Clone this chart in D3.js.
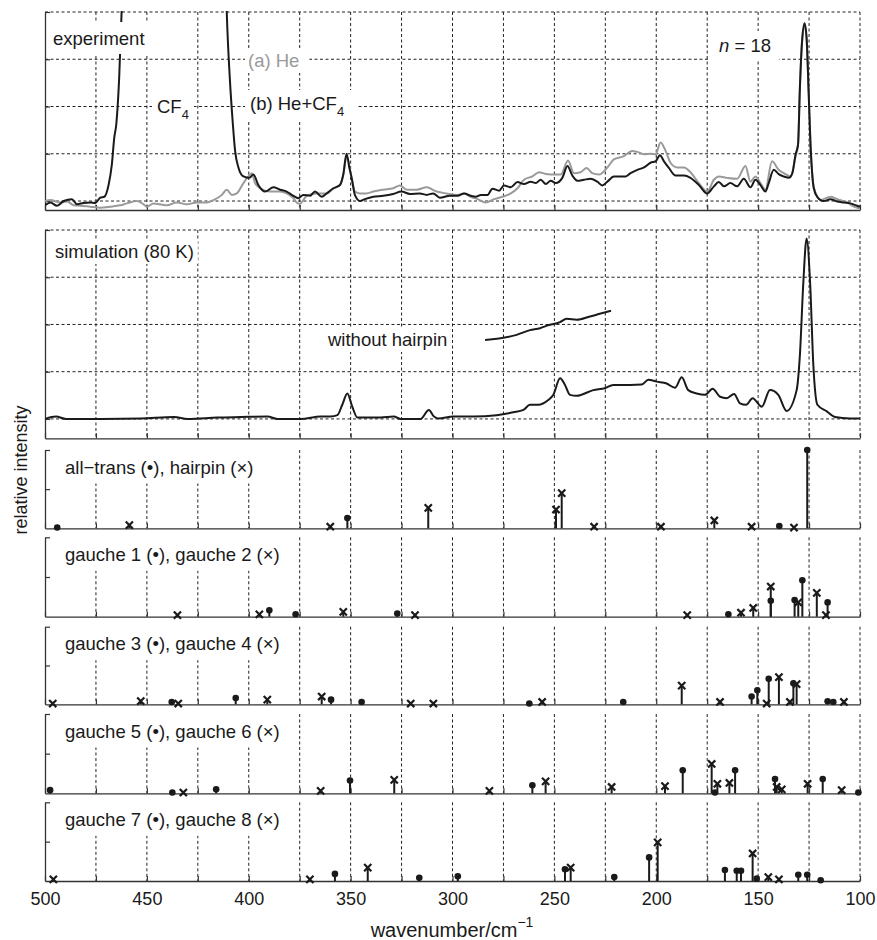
<!DOCTYPE html>
<html>
<head>
<meta charset="utf-8">
<script src="https://cdn.jsdelivr.net/npm/d3@7"></script>
<style>
  body { margin: 0; background: #fff; }
  svg { display: block; font-family: "Liberation Sans", Arial, Helvetica, sans-serif; }
</style>
</head>
<body>
<div id="chart"></div>
<script>
'use strict';

// ---- data: [wavenumber (cm-1), relative intensity] ----

// experiment (a) He, grey
var heSpectrum = [
  [500, 0.0], [497.4, 0.02], [492.5, -0.03], [489.2, -0.01], [485.9, -0.09], [482.7, -0.1],
  [477.8, -0.12], [472.9, -0.14], [468, -0.12], [463.1, -0.09], [459.8, -0.05], [454.9, 0.0],
  [451.6, -0.07], [450, -0.12], [446.7, -0.05], [443.5, -0.07], [440.2, -0.09], [435.3, -0.03],
  [430.4, -0.07], [425.5, -0.03], [420.6, -0.03], [417.3, 0.02], [413.2, 0.13], [410.8, 0.24],
  [408.3, 0.13], [405.9, 0.16], [402.6, 0.38], [400.2, 0.52], [398.5, 0.59], [396.9, 0.38],
  [394.4, 0.27], [389.5, 0.2], [384.6, 0.2], [381.4, 0.16], [378.1, 0.06], [376.5, -0.03],
  [374.8, -0.06], [373.2, 0.02], [371.6, 0.11], [366.7, 0.16], [361.8, 0.16], [358.5, 0.26],
  [355.2, 0.34], [353.6, 0.56], [352, 0.95], [349.5, 0.49], [347.9, 0.2], [345.4, 0.16],
  [342.2, 0.16], [338.9, 0.2], [334, 0.24], [329.1, 0.27], [325.8, 0.33], [322.5, 0.24],
  [317.6, 0.24], [312.7, 0.29], [307.8, 0.2], [302.9, 0.16], [297.5, 0.13], [294.3, 0.16],
  [291, 0.09], [287.7, 0.04], [283.7, -0.03], [279.6, 0.04], [275.5, 0.09], [271.4, 0.16],
  [268.1, 0.27], [264.9, 0.45], [260.8, 0.52], [257.5, 0.61], [254.2, 0.57], [251.8, 0.56],
  [246.9, 0.56], [243.3, 0.86], [240.4, 0.59], [237.1, 0.61], [234.2, 0.7], [231.4, 0.59],
  [228.1, 0.56], [224, 0.71], [220.8, 0.88], [215.9, 0.95], [211.8, 1.06], [209.3, 1.04],
  [206, 0.99], [202.8, 1.0], [200.3, 0.99], [197.9, 1.24], [195.4, 1.06], [193, 0.81],
  [189.7, 0.71], [186.4, 0.71], [183.2, 0.61], [179.1, 0.38], [175, 0.2], [171.7, 0.45],
  [169.3, 0.52], [165.2, 0.49], [160.3, 0.47], [156.2, 0.74], [153.8, 0.41], [151.3, 0.52],
  [148.9, 0.38], [146.4, 0.24], [143.2, 0.84], [139.9, 0.66], [136.6, 0.57], [134.1, 0.52],
  [131.6, 0.95], [130.4, 1.2], [129.5, 2.4], [128.4, 3.4], [127.2, 3.72], [126.2, 3.4],
  [125.2, 2.3], [124.3, 1.2], [123.5, 0.6], [122.7, 0.3], [119.4, 0.02], [114.5, 0.09],
  [111.2, 0.04], [106.3, -0.03], [103, -0.12], [100, -0.16]
];

// experiment (b) He+CF4, black (the CF4 band runs off scale)
var heCf4Spectrum = [
  [500, -0.09], [497.4, -0.03], [494.1, -0.1], [490.8, 0.0], [486.8, 0.04], [484.3, -0.07],
  [481, -0.04], [477.8, -0.03], [475.3, -0.04], [472.9, 0.07], [470.9, 0.09], [468.8, 0.34],
  [467.2, 0.77], [466, 1.34], [465, 1.63], [463.6, 2.6], [462.4, 4.0], [461, 6], [436, 9],
  [412, 6], [410.8, 4.0], [409.3, 2.6], [407.8, 1.63], [406.7, 1.06], [405, 0.7], [402.6, 0.52],
  [399.7, 0.49], [397.7, 0.56], [395.3, 0.34], [392, 0.2], [387.9, 0.29], [384.6, 0.24],
  [381.4, 0.2], [378.1, 0.11], [375.7, 0.06], [373.2, 0.13], [369.9, 0.11], [367.5, 0.2],
  [364.2, 0.09], [361.8, 0.16], [358.5, 0.27], [355.2, 0.34], [353.6, 0.56], [352, 1.0],
  [350.6, 0.7], [349.5, 0.49], [347.9, 0.13], [345.4, 0.0], [343, 0.04], [338.9, 0.09],
  [334, 0.11], [329.1, 0.15], [325, 0.2], [320.9, 0.15], [316, 0.16], [312.7, 0.13],
  [309.5, 0.16], [306.2, 0.07], [301.3, 0.11], [297.5, 0.11], [294.3, 0.16], [291, 0.11],
  [288.6, 0.09], [286.1, 0.13], [282.8, 0.13], [280.4, 0.26], [277.1, 0.22], [274.7, 0.33],
  [271.4, 0.29], [268.1, 0.4], [264.9, 0.36], [261.6, 0.41], [259.1, 0.38], [256.7, 0.45],
  [254.2, 0.36], [251.8, 0.43], [249.3, 0.38], [246.1, 0.49], [243.6, 0.74], [241.2, 0.54],
  [238.7, 0.43], [235.5, 0.45], [232.2, 0.47], [228.9, 0.41], [226.5, 0.33], [224, 0.41],
  [220.8, 0.52], [217.5, 0.52], [215, 0.52], [212.6, 0.59], [209.3, 0.66], [206, 0.71],
  [202.8, 0.81], [200.3, 0.84], [198.2, 0.97], [196.2, 0.84], [193.8, 0.7], [190.5, 0.54],
  [186.4, 0.54], [183.2, 0.49], [179.1, 0.34], [175, 0.16], [171.7, 0.31], [169.3, 0.4],
  [166.8, 0.31], [163.6, 0.38], [160.3, 0.31], [157, 0.47], [153.8, 0.29], [151.3, 0.45],
  [148.9, 0.34], [146.4, 0.2], [144.8, 0.38], [142.3, 0.66], [139.9, 0.57], [137.4, 0.52],
  [134.9, 0.49], [133.2, 0.59], [131.6, 0.99], [130.4, 1.2], [129.5, 2.4], [128.4, 3.4],
  [127.2, 3.76], [126.2, 3.45], [125.2, 2.3], [124.3, 1.2], [123.5, 0.6], [122.7, 0.27],
  [121, 0.09], [117.7, 0.0], [114.5, 0.04], [111.2, -0.01], [107.9, -0.03], [104.7, -0.05],
  [101.4, -0.1], [100, -0.12]
];

// simulation (80 K)
var simSpectrum = [
  [500, 0.0], [494.6, 0.05], [489.7, 0.0], [472.5, 0.0], [452.9, 0.01], [436.6, 0.04],
  [430, 0.0], [415.3, 0.03], [403.9, 0.04], [390.8, 0.05], [385.9, 0.0], [374.5, 0.0],
  [364.7, 0.05], [359.8, 0.05], [356.5, 0.08], [354.1, 0.3], [351.6, 0.54], [349.2, 0.26],
  [346.7, 0.03], [341.8, 0.03], [335.3, 0.03], [328.8, 0.05], [325.5, 0.0], [315.7, 0.0],
  [311.6, 0.19], [309.1, 0.05], [307, 0.01], [299.6, 0.05], [289.8, 0.05], [278.3, 0.08],
  [270.2, 0.14], [265.2, 0.19], [262, 0.3], [257.9, 0.3], [253, 0.4], [250.5, 0.51],
  [247.2, 0.86], [244.8, 0.72], [242.3, 0.51], [239, 0.49], [230.9, 0.61], [225.2, 0.65],
  [221.1, 0.72], [212.9, 0.72], [207.1, 0.73], [203.9, 0.83], [199.8, 0.79], [194.9, 0.75],
  [190.8, 0.66], [187.5, 0.88], [184.3, 0.61], [180.2, 0.54], [176.1, 0.51], [172.3, 0.64],
  [168.7, 0.47], [165.4, 0.44], [161.8, 0.53], [158.9, 0.33], [155.9, 0.3], [152.7, 0.44],
  [148.2, 0.26], [144.2, 0.61], [140.1, 0.51], [136, 0.17], [131.1, 0.61], [129.5, 1.35],
  [127.8, 2.9], [126.2, 3.82], [124.5, 2.9], [122.9, 1.14], [120.9, 0.3], [116.3, 0.16],
  [112.3, 0.04], [104.9, 0.01], [100, 0.01]
];

// simulation, hairpin removed (short offset trace)
var noHairpin = [
  [284, 1.67], [268.5, 1.78], [262, 1.88], [257, 1.92], [254, 1.97], [247.2, 2.05],
  [244, 2.12], [239, 2.1], [232.5, 2.17], [222.2, 2.29]
];

// computed stick spectra (dot series / cross series)
var allTrans = [[494, 0.01], [351.6, 0.13], [139.6, 0.03], [125.9, 1.0]];
var hairpin = [[458.6, 0.04], [360, 0.02], [311.9, 0.26], [249.2, 0.24], [246.4, 0.45],
  [230.5, 0.02], [197.7, 0.02], [171.5, 0.1], [153.2, 0.02], [132.4, 0.01]];
var gauche1 = [[389.9, 0.08], [377, 0.03], [327.1, 0.04], [164.6, 0.03], [143.8, 0.2],
  [132.1, 0.21], [128.3, 0.46], [115.9, 0.18]];
var gauche2 = [[435, 0.02], [394.8, 0.03], [353.6, 0.06], [318.4, 0.02], [184.8, 0.02],
  [158.4, 0.05], [152.4, 0.11], [143.8, 0.38], [130.3, 0.18], [121.2, 0.3], [116.7, 0.02]];
var gauche3 = [[437.8, 0.03], [406.4, 0.08], [359.6, 0.06], [344.6, 0.03], [262.3, 0.01],
  [216.2, 0.03], [153.2, 0.1], [150.4, 0.18], [144.8, 0.33], [132.7, 0.27], [115.9, 0.04],
  [113.1, 0.03]];
var gauche4 = [[496.2, 0.01], [453, 0.04], [434.6, 0.01], [390.9, 0.06], [364.2, 0.1],
  [320.5, 0.01], [309.4, 0.01], [256, 0.03], [187.5, 0.24], [168.7, 0.03], [145.8, 0.01],
  [139.8, 0.35], [134.4, 0.03], [131.1, 0.26], [107.9, 0.03]];
var gauche5 = [[497.5, 0.04], [437.5, 0.01], [416, 0.05], [350.3, 0.16], [260.8, 0.1],
  [187, 0.29], [171.2, 0.01], [161.3, 0.29], [141.7, 0.18], [118.3, 0.18], [100.8, 0.01]];
var gauche6 = [[432.1, 0.01], [364.7, 0.03], [328.6, 0.17], [281.9, 0.03], [254.3, 0.15],
  [221.9, 0.08], [195.7, 0.09], [172.8, 0.37], [170, 0.12], [164.1, 0.13], [140.9, 0.08],
  [138.4, 0.05], [125.7, 0.12], [109, 0.04]];
var gauche7 = [[357.7, 0.09], [316.3, 0.04], [297.4, 0.06], [244.8, 0.15], [220.6, 0.05],
  [203.5, 0.3], [166.3, 0.14], [160.5, 0.13], [158.4, 0.13], [150.7, 0.03], [130.3, 0.08],
  [125.9, 0.08], [119.3, 0.01]];
var gauche8 = [[495.9, 0.02], [370, 0.02], [341.6, 0.17], [242, 0.17], [199.3, 0.49],
  [152.7, 0.35], [145, 0.05], [139.8, 0.02]];

var stickLabels = ['all\u2212trans', 'hairpin', 'gauche 1', 'gauche 2', 'gauche 3',
  'gauche 4', 'gauche 5', 'gauche 6', 'gauche 7', 'gauche 8'];
var stickDots = [allTrans, gauche1, gauche3, gauche5, gauche7];
var stickCrosses = [hairpin, gauche2, gauche4, gauche6, gauche8];

var gridLines = d3.range(475, 99, -25);
var xTicks = d3.range(500, 99, -25);
var yGridLines = [0, 1, 2, 3, 4];

// ---- layout ----
var W = 877, H = 940;
var LEFT = 45, RIGHT = 860;
var INK = '#1a1a1a', AXIS = '#333', GREY = '#9a9a9a';

var x = d3.scaleLinear().domain([500, 100]).range([LEFT, RIGHT]);

var svg = d3.select('#chart').append('svg')
  .attr('width', W).attr('height', H);

// text with optional white box behind (like the MATLAB annotations)
function label(parent, px, py, parts, opt) {
  opt = opt || {};
  var lg = parent.append('g');
  var bg = lg.append('rect').attr('fill', '#fff');
  var t = lg.append('text')
    .attr('x', px).attr('y', py)
    .attr('font-size', opt.size || 18.5)
    .attr('fill', opt.color || INK);
  parts.forEach(function(p) {
    var s = t.append('tspan').text(p.t);
    if (p.sub) s.attr('font-size', 13).attr('dy', 6);
    if (p.it) s.attr('font-style', 'italic');
  });
  if (opt.box) {
    var b = t.node().getBBox();
    var pad = opt.box;
    bg.attr('x', b.x - pad[0]).attr('y', b.y - pad[1])
      .attr('width', b.width + pad[0] + pad[2])
      .attr('height', b.height + pad[1] + pad[3]);
  }
  return lg;
}

function styleAxis(g) {
  g.attr('color', AXIS);
  g.select('.domain').attr('stroke-width', 1.3);
  g.selectAll('.tick line').attr('stroke-width', 1.2);
}

// ---- continuous panels ----
function linePanel(top, bottom, ymin, id) {
  var y = d3.scaleLinear().domain([ymin, 4]).range([bottom, top]);
  var g = svg.append('g');

  svg.append('clipPath').attr('id', id)
    .append('rect')
      .attr('x', LEFT).attr('y', top - 1)
      .attr('width', RIGHT - LEFT).attr('height', bottom - top + 1);

  g.append('g').selectAll('line')
    .data(gridLines)
    .enter()
    .append('line')
      .attr('x1', x).attr('x2', x)
      .attr('y1', top).attr('y2', bottom)
      .attr('stroke', '#222').attr('stroke-width', 1)
      .attr('stroke-dasharray', '3,2.5');

  g.append('g').selectAll('line')
    .data(yGridLines)
    .enter()
    .append('line')
      .attr('x1', LEFT).attr('x2', RIGHT)
      .attr('y1', y).attr('y2', y)
      .attr('stroke', '#222').attr('stroke-width', 1)
      .attr('stroke-dasharray', '3,2.5');

  g.append('g')
    .attr('transform', 'translate(0,' + bottom + ')')
    .call(d3.axisBottom(x).tickValues(xTicks).tickSize(-5).tickSizeOuter(0).tickFormat(''))
    .call(styleAxis);

  g.append('g')
    .attr('transform', 'translate(' + LEFT + ',0)')
    .call(d3.axisLeft(y).tickValues(yGridLines).tickSize(-5).tickSizeOuter(0).tickFormat(''))
    .call(styleAxis);

  var line = d3.line()
    .x(function(d) { return x(d[0]); })
    .y(function(d) { return y(d[1]); })
    .curve(d3.curveMonotoneX);

  return { g: g, y: y, line: line, clip: 'url(#' + id + ')' };
}

// experiment panel
var p1 = linePanel(12, 210, -0.19, 'clipExp');
p1.g.append('path').datum(heSpectrum)
  .attr('d', p1.line).attr('clip-path', p1.clip)
  .attr('fill', 'none').attr('stroke', GREY).attr('stroke-width', 2);
p1.g.append('path').datum(heCf4Spectrum)
  .attr('d', p1.line).attr('clip-path', p1.clip)
  .attr('fill', 'none').attr('stroke', INK).attr('stroke-width', 2);

label(p1.g, 53, 45, [{t: 'experiment'}], {box: [4, 6, 6, 5]});
label(p1.g, 157, 113, [{t: 'CF'}, {t: '4', sub: true}], {box: [5, 4, 5, 2]});
label(p1.g, 248, 67, [{t: '(a) He'}], {color: GREY, box: [3, 2, 10, 2]});
label(p1.g, 250, 110, [{t: '(b) He+CF'}, {t: '4', sub: true}], {box: [5, 3, 12, 2]});
label(p1.g, 719, 52, [{t: 'n', it: true}, {t: ' = 18'}], {box: [9, 4, 8, 5]});

// simulation panel
var p2 = linePanel(230, 438.3, -0.41, 'clipSim');
label(p2.g, 55, 258, [{t: 'simulation (80 K)'}], {box: [4, 2, 4, 2]});
label(p2.g, 328, 346, [{t: 'without hairpin'}], {box: [4, 2, 4, 2]});
p2.g.append('path').datum(simSpectrum)
  .attr('d', p2.line).attr('clip-path', p2.clip)
  .attr('fill', 'none').attr('stroke', INK).attr('stroke-width', 2);
p2.g.append('path').datum(noHairpin)
  .attr('d', p2.line)
  .attr('fill', 'none').attr('stroke', INK).attr('stroke-width', 2);

// ---- stick panels ----
var stickTops = [450, 537.3, 626.7, 714, 802.3];
var stickBottoms = [528.3, 616.7, 704.3, 793.3, 881];

stickTops.forEach(function(top, i) {
  var bottom = stickBottoms[i];
  var y = d3.scaleLinear().domain([0, 1]).range([bottom, top]);
  var g = svg.append('g');

  g.append('g').selectAll('line')
    .data(gridLines)
    .enter()
    .append('line')
      .attr('x1', x).attr('x2', x)
      .attr('y1', top).attr('y2', bottom)
      .attr('stroke', '#222').attr('stroke-width', 1)
      .attr('stroke-dasharray', '3,2.5');

  var sym = ' (\u2022), ';
  label(g, 65, top + 23.5,
    [{t: stickLabels[2 * i] + sym + stickLabels[2 * i + 1] + ' (\u00d7)'}],
    {box: [14, 12, 9, 6]});

  var isLast = i === stickTops.length - 1;
  var xAxis = d3.axisBottom(x).tickValues(xTicks).tickSize(-5).tickSizeOuter(0)
    .tickPadding(11)
    .tickFormat(function(d) { return isLast && d % 50 === 0 ? d : ''; });
  g.append('g')
    .attr('transform', 'translate(0,' + bottom + ')')
    .call(xAxis)
    .call(styleAxis)
    .call(function(a) {
      a.selectAll('text').attr('font-size', 18).attr('fill', INK)
        .attr('font-family', '"Liberation Sans", Arial, sans-serif');
    });

  g.append('g')
    .attr('transform', 'translate(' + LEFT + ',0)')
    .call(d3.axisLeft(y).tickValues([0.5, 1]).tickSize(-5).tickSizeOuter(0).tickFormat(''))
    .call(styleAxis);

  var all = stickDots[i].map(function(d) { return {wn: d[0], v: d[1], m: 'dot'}; })
    .concat(stickCrosses[i].map(function(d) { return {wn: d[0], v: d[1], m: 'cross'}; }));

  g.append('g').selectAll('line')
    .data(all)
    .enter()
    .append('line')
      .attr('x1', function(d) { return x(d.wn); })
      .attr('x2', function(d) { return x(d.wn); })
      .attr('y1', y(0))
      .attr('y2', function(d) { return y(d.v); })
      .attr('stroke', INK).attr('stroke-width', 2);

  g.append('g').selectAll('circle')
    .data(all.filter(function(d) { return d.m === 'dot'; }))
    .enter()
    .append('circle')
      .attr('cx', function(d) { return x(d.wn); })
      .attr('cy', function(d) { return y(d.v); })
      .attr('r', 3.3)
      .attr('fill', INK);

  var s = 3.6;
  g.append('g').selectAll('path')
    .data(all.filter(function(d) { return d.m === 'cross'; }))
    .enter()
    .append('path')
      .attr('d', function(d) {
        var cx = x(d.wn), cy = y(d.v);
        return 'M' + (cx - s) + ',' + (cy - s) + 'L' + (cx + s) + ',' + (cy + s) +
          'M' + (cx - s) + ',' + (cy + s) + 'L' + (cx + s) + ',' + (cy - s);
      })
      .attr('stroke', INK).attr('stroke-width', 2.2).attr('fill', 'none');
});

// ---- axis titles ----
svg.append('text')
  .attr('transform', 'translate(27,470) rotate(-90)')
  .attr('text-anchor', 'middle')
  .attr('font-size', 18).attr('fill', INK)
  .text('relative intensity');

var xt = svg.append('text')
  .attr('x', 452).attr('y', 937)
  .attr('text-anchor', 'middle')
  .attr('font-size', 20).attr('fill', INK);
xt.append('tspan').text('wavenumber/cm');
xt.append('tspan').attr('font-size', 14).attr('dy', -10).text('\u22121');
</script>
</body>
</html>
